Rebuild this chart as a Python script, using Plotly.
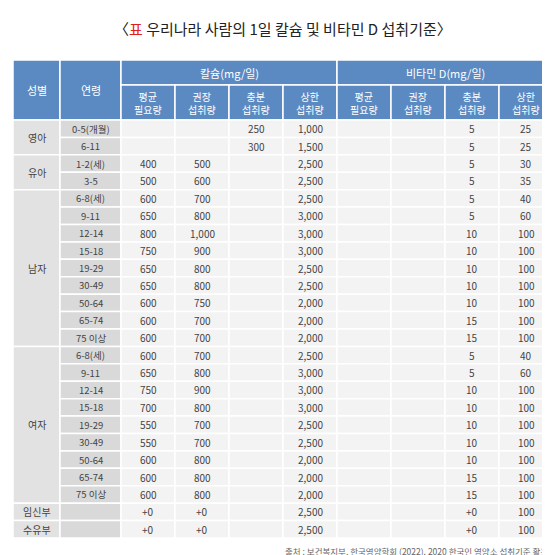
import plotly.graph_objects as go

groups = ["영아", "유아", "남자", "여자", "임신부", "수유부"]
group_sizes = [2, 2, 9, 9, 1, 1]
ages = ["0-5(개월)", "6-11", "1-2(세)", "3-5",
        "6-8(세)", "9-11", "12-14", "15-18", "19-29", "30-49", "50-64", "65-74", "75 이상",
        "6-8(세)", "9-11", "12-14", "15-18", "19-29", "30-49", "50-64", "65-74", "75 이상",
        "", ""]
ca_ear = ["", "", "400", "500", "600", "650", "800", "750", "650", "650", "600", "600", "600",
          "600", "650", "750", "700", "550", "550", "600", "600", "600", "+0", "+0"]
ca_rni = ["", "", "500", "600", "700", "800", "1,000", "900", "800", "800", "750", "700", "700",
          "700", "800", "900", "800", "700", "700", "800", "800", "800", "+0", "+0"]
ca_ai = ["250", "300"] + [""] * 22
ca_ul = ["1,000", "1,500", "2,500", "2,500", "2,500", "3,000", "3,000", "3,000", "2,500", "2,500",
         "2,000", "2,000", "2,000", "2,500", "3,000", "3,000", "3,000", "2,500", "2,500", "2,000",
         "2,000", "2,000", "2,500", "2,500"]
d_ear = [""] * 24
d_rni = [""] * 24
d_ai = ["5", "5", "5", "5", "5", "5", "10", "10", "10", "10", "10", "15", "15",
        "5", "5", "10", "10", "10", "10", "10", "15", "15", "+0", "+0"]
d_ul = ["25", "25", "30", "35", "40", "60", "100", "100", "100", "100", "100", "100", "100",
        "40", "60", "100", "100", "100", "100", "100", "100", "100", "100", "100"]
sub_headers = ["평균<br>필요량", "권장<br>섭취량", "충분<br>섭취량", "상한<br>섭취량"] * 2

HEAD = "#5b8ac2"
CELL = "#f3f3f3"
GRP = "#e2e2e2"
AGE = "#d9d9d9"
TXT = "#444444"
FONT = "Noto Sans CJK KR"

xb = [5, 52, 113] + [113 + 54 * (i + 1) for i in range(8)]
y_h0, y_h1, y_h2 = 52, 77, 112
row_h = (530 - y_h2) / 24
yb = [y_h2 + row_h * i for i in range(25)]

fig = go.Figure()
shapes, ann = [], []


def cell(x0, x1, y0, y1, fill, text, color=TXT, size=10):
    shapes.append(dict(type="rect", xref="x", yref="y", x0=x0, x1=x1, y0=y0, y1=y1,
                       fillcolor=fill, line=dict(color="white", width=1.5), layer="below"))
    if text:
        ann.append(dict(x=(x0 + x1) / 2, y=(y0 + y1) / 2, xref="x", yref="y", text=text,
                        showarrow=False, font=dict(family=FONT, size=size, color=color)))


# header
cell(xb[0], xb[1], y_h0, y_h2, HEAD, "성별", "white", 11)
cell(xb[1], xb[2], y_h0, y_h2, HEAD, "연령", "white", 11)
cell(xb[2], xb[6], y_h0, y_h1, HEAD, "칼슘(mg/일)", "white", 11)
cell(xb[6], xb[10], y_h0, y_h1, HEAD, "비타민 D(mg/일)", "white", 11)
for i, h in enumerate(sub_headers):
    cell(xb[2 + i], xb[3 + i], y_h1, y_h2, HEAD, h, "white", 10)

# group column
r = 0
for g, n in zip(groups, group_sizes):
    cell(xb[0], xb[1], yb[r], yb[r + n], GRP, g, TXT, 10)
    r += n

cols = [ca_ear, ca_rni, ca_ai, ca_ul, d_ear, d_rni, d_ai, d_ul]
for i in range(24):
    cell(xb[1], xb[2], yb[i], yb[i + 1], AGE, ages[i], TXT, 9.5)
    for j, c in enumerate(cols):
        cell(xb[2 + j], xb[3 + j], yb[i], yb[i + 1], CELL, c[i], TXT, 10)

ann.append(dict(x=275, y=20, xref="x", yref="y", showarrow=False,
                text="〈<span style='color:#e0201b'>표</span> 우리나라 사람의 1일 칼슘 및 비타민 D 섭취기준〉",
                font=dict(family=FONT, size=15, color="#222222")))
ann.append(dict(x=545, y=543, xref="x", yref="y", showarrow=False, xanchor="right",
                text="출처 : 보건복지부, 한국영양학회 (2022). 2020 한국인 영양소 섭취기준 활용.",
                font=dict(family=FONT, size=8.5, color="#666666")))

fig.update_layout(
    width=550, height=555, margin=dict(l=0, r=0, t=0, b=0),
    paper_bgcolor="white", plot_bgcolor="white",
    xaxis=dict(range=[0, 550], visible=False, fixedrange=True),
    yaxis=dict(range=[555, 0], visible=False, fixedrange=True),
    shapes=shapes, annotations=ann, showlegend=False,
)
fig.write_html("out.html")
